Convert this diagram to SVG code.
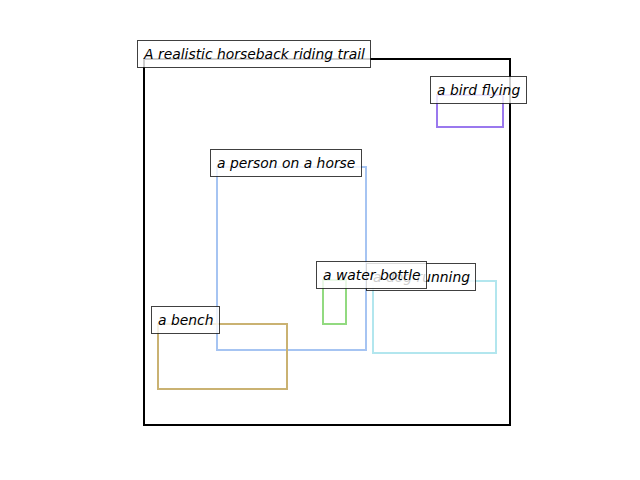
<svg xmlns="http://www.w3.org/2000/svg" width="640" height="480" viewBox="0 0 640 480">
<style>
.box{fill:none;stroke-width:2}
.lbl rect{fill:#fff;fill-opacity:0.8;stroke:#000;stroke-opacity:0.75;stroke-width:1}
.lbl text{font-family:"DejaVu Sans",sans-serif;font-style:oblique;font-size:13.9px;fill:#000}
</style>
<rect width="640" height="480" fill="#fff"/>
<g id="scene"><rect x="144" y="59" width="366" height="366" fill="none" stroke="#000" stroke-width="2"/></g>
<g id="boxes">
<g id="bird"><rect class="box" x="437" y="95" width="66" height="32" stroke="#9a78ee"/></g>
<g id="person"><rect class="box" x="217" y="167" width="149" height="183" stroke="#a6c4f2"/></g>
<g id="dog"><rect class="box" x="373" y="281" width="123" height="72" stroke="#b2e6ee"/></g>
<g id="bottle"><rect class="box" x="323" y="280" width="23" height="44" stroke="#92da80"/></g>
<g id="bench"><rect class="box" x="158" y="324" width="129" height="65" stroke="#cab272"/></g>
</g>
<g id="labels">
<g class="lbl" id="l-title"><rect x="137.5" y="40.5" width="233" height="27"/><text x="144" y="58.8">A realistic horseback riding trail</text></g>
<g class="lbl" id="l-bird"><rect x="430.5" y="76.5" width="96" height="27"/><text x="437" y="94.8">a bird flying</text></g>
<g class="lbl" id="l-person"><rect x="210.5" y="149.5" width="151" height="27"/><text x="217" y="167.8">a person on a horse</text></g>
<g class="lbl" id="l-dog"><rect x="366.5" y="263.5" width="109" height="27"/><text x="373" y="281.8">a dog running</text></g>
<g class="lbl" id="l-bottle"><rect x="316.5" y="261.5" width="110" height="27"/><text x="323" y="279.8">a water bottle</text></g>
<g class="lbl" id="l-bench"><rect x="151.5" y="306.5" width="68" height="27"/><text x="158" y="324.8">a bench</text></g>
</g>
</svg>
